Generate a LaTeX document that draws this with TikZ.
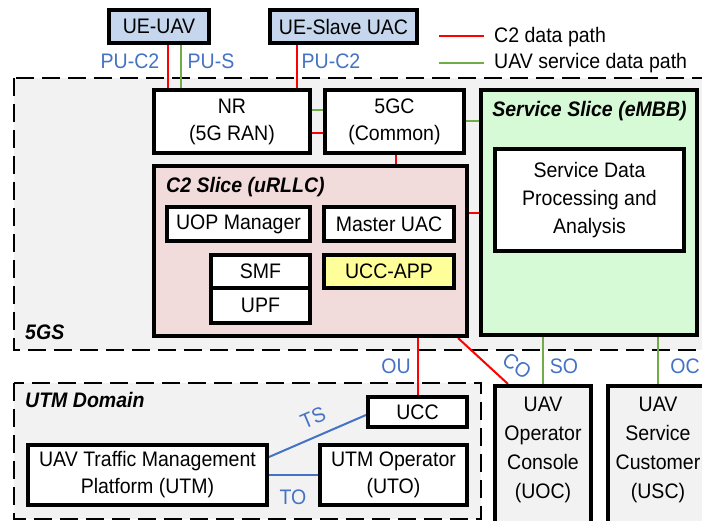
\documentclass[tikz,border=0pt]{standalone}
\usepackage{fontspec}
\setmainfont[FakeStretch=0.93]{Liberation Sans}
\usetikzlibrary{calc}
\pgfdeclarelayer{back}
\pgfdeclarelayer{links}
\pgfsetlayers{back,links,main}

\definecolor{grayfill}{RGB}{242,242,242}
\definecolor{ueblue}{RGB}{197,214,237}
\definecolor{c2fill}{RGB}{242,220,219}
\definecolor{svcfill}{RGB}{214,250,214}
\definecolor{uccyellow}{RGB}{255,255,153}
\definecolor{ifblue}{RGB}{68,114,196}
\definecolor{c2red}{RGB}{255,0,0}
\definecolor{svcgreen}{RGB}{112,173,71}

\begin{document}
\begin{tikzpicture}[x=1pt,y=-1pt,
  every node/.style={font=\fontsize{21}{27}\selectfont},
  blk/.style={draw=black, line width=4pt, fill=white, align=center, inner sep=0pt},
  domainbox/.style={draw=black, line width=2.5pt, dash pattern=on 18pt off 8pt, fill=grayfill},
  c2path/.style={line width=2pt, draw=c2red},
  svcpath/.style={line width=2pt, draw=svcgreen},
  utmpath/.style={line width=2pt, draw=ifblue},
  iflabel/.style={text=ifblue, inner sep=0pt},
  title/.style={font=\fontsize{21}{27}\selectfont\bfseries\itshape, inner sep=0pt},
  plain/.style={inner sep=0pt}]

\useasboundingbox (0,0) rectangle (702,521);

% page background and the two domains
\begin{pgfonlayer}{back}
  \clip (0,0) rectangle (702,521);
  \fill[white] (0,0) rectangle (702,521);
  \path[domainbox] (14,78) rectangle (740,350);
  \path[domainbox] (14,383) rectangle (481,519);
\end{pgfonlayer}

\clip (0,0) rectangle (702,521);

% user equipment
\node[blk, fill=ueblue, minimum width=100pt, minimum height=33pt] (ueuav) at (159,26.5) {UE-UAV};
\node[blk, fill=ueblue, minimum width=147pt, minimum height=33pt] (ueslave) at (343.5,26.5) {UE-Slave UAC};

% 5G system
\node[blk, minimum width=156pt, minimum height=63pt] (nr) at (232,121.5) {NR\\(5G RAN)};
\node[blk, minimum width=139pt, minimum height=63pt] (core) at (394.5,121.5) {5GC\\(Common)};

\node[blk, fill=svcfill, minimum width=216pt, minimum height=245pt] (svcslice) at (589,212.5) {};
\node[title, anchor=base] (svctitle) at (589.5,117) {Service Slice (eMBB)};
\node[blk, font=\fontsize{21}{28}\selectfont, minimum width=189pt, minimum height=102pt] (sdpa) at (589.5,200) {Service Data\\Processing and\\Analysis};

\node[blk, fill=c2fill, minimum width=313pt, minimum height=170pt] (c2slice) at (310.5,251) {};
\node[title, anchor=base west] (c2title) at (166,193) {C2 Slice (uRLLC)};
\node[blk, minimum width=143pt, minimum height=34pt] (uop) at (238.5,224) {UOP Manager};
\node[blk, minimum width=130pt, minimum height=34pt] (master) at (389,224) {Master UAC};
\node[blk, minimum width=99pt, minimum height=33pt] (smf) at (260.5,271.5) {SMF};
\node[blk, minimum width=99pt, minimum height=35pt] (upf) at (260.5,305.5) {UPF};
\node[blk, fill=uccyellow, minimum width=130pt, minimum height=33pt] (uccapp) at (389,271.5) {UCC-APP};

\node[title, anchor=base west] (gslabel) at (25,340) {5GS};

% UTM domain
\node[title, anchor=base west] (utmlabel) at (25,408) {UTM Domain};
\node[blk, minimum width=99pt, minimum height=30pt] (ucc) at (417.5,412) {UCC};
\node[blk, minimum width=147pt, minimum height=60pt] (uto) at (393.5,475) {UTM Operator\\(UTO)};
\node[blk, minimum width=239pt, minimum height=60pt] (utmp) at (147.5,475) {UAV Traffic Management\\Platform (UTM)};

% operator console and service customer
\node[blk, fill=grayfill, minimum width=96pt, minimum height=141pt, anchor=north] (uoc) at (543,384) {};
\node[plain, align=center, font=\fontsize{21}{29}\selectfont] (uoctext) at (543,450) {UAV\\Operator\\Console\\(UOC)};
\node[blk, fill=grayfill, minimum width=100pt, minimum height=141pt, anchor=north] (usc) at (658,384) {};
\node[plain, align=center, font=\fontsize{21}{29}\selectfont] (usctext) at (658,450) {UAV\\Service\\Customer\\(USC)};

% data paths
\begin{pgfonlayer}{links}
  \draw[c2path] ([xshift=9pt]ueuav.south) -- ([xshift=9pt]ueuav.south |- nr.north);
  \draw[svcpath] ([xshift=22pt]ueuav.south) -- ([xshift=22pt]ueuav.south |- nr.north);
  \draw[c2path] ([xshift=-46.5pt]ueslave.south) -- ([xshift=-46.5pt]ueslave.south |- nr.north);
  \draw[svcpath] ([yshift=11.5pt]nr.east) -- ([yshift=11.5pt]nr.east -| core.west);
  \draw[c2path] ([yshift=-11.5pt]nr.east) -- ([yshift=-11.5pt]nr.east -| core.west);
  \draw[svcpath] (core.east) -- (core.east -| svcslice.west);
  \draw[c2path] ([xshift=1.5pt]core.south) -- ([xshift=1.5pt]core.south |- c2slice.north);
  \draw[c2path] ([yshift=38pt]c2slice.east) -- ([yshift=38pt]c2slice.east -| svcslice.west);
  \draw[c2path] (ucc.north |- c2slice.south) -- (ucc.north);
  \draw[c2path] ([xshift=-11pt]c2slice.south east) -- ([xshift=-35pt]uoc.north);
  \draw[svcpath] (uoc.north |- svcslice.south) -- (uoc.north);
  \draw[svcpath] (usc.north |- svcslice.south) -- (usc.north);
  \draw[utmpath] ([yshift=18pt]utmp.east) -- ([yshift=-3pt]ucc.west);
  \draw[utmpath] (utmp.east) -- (utmp.east -| uto.west);
\end{pgfonlayer}

% interface labels
\node[iflabel] (puc2a) at (130,61) {PU-C2};
\node[iflabel] (pus) at (211,61) {PU-S};
\node[iflabel] (puc2b) at (331,61) {PU-C2};
\node[iflabel] (ou) at (396,366) {OU};
\node[iflabel, rotate=-35] (co) at (517,366) {CO};
\node[iflabel] (so) at (564,366) {SO};
\node[iflabel] (oc) at (685,366) {OC};
\node[iflabel, rotate=23] (ts) at (313,418) {TS};
\node[iflabel] (lblto) at (293,497) {TO};

% legend
\coordinate (lgra) at (439,36);
\coordinate (lgrb) at (484,36);
\coordinate (lgga) at (439,63);
\coordinate (lggb) at (484,63);
\draw[c2path] (lgra) -- (lgrb);
\draw[svcpath] (lgga) -- (lggb);
\node[plain, anchor=base west] (lgr) at (494,43) {C2 data path};
\node[plain, anchor=base west] (lgg) at (494,69) {UAV service data path};
\end{tikzpicture}
\end{document}
